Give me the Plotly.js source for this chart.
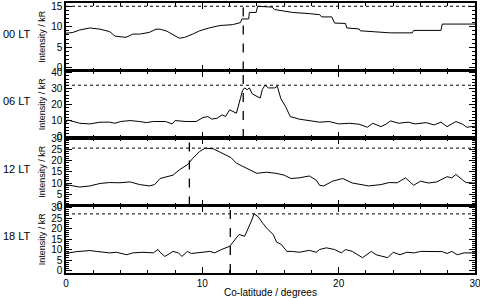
<!DOCTYPE html>
<html><head><meta charset="utf-8">
<script src="https://cdn.plot.ly/plotly-3.0.1.min.js"></script>
<style>html,body{margin:0;padding:0;background:#fff}#chart{width:480px;height:298px}</style>
</head><body><div id="chart"></div>
<script>
// Panel labels (local time)
const panelLabels = ["00 LT", "06 LT", "12 LT", "18 LT"];

// 00 LT
const colat00 = [0,0.5,1.0,1.75,2.5,3.2,3.6,4.4,4.9,5.4,6.1,6.6,6.9,7.4,8.3,8.7,9.3,9.8,10.5,11.3,12.2,12.8,12.9,13.4,13.45,13.95,14.05,15.1,15.3,16.6,17.85,18.6,18.75,19.5,19.7,20.5,20.6,21.5,21.6,22.6,23.8,25.4,25.5,27.5,27.6,30];
const int00   = [8.4,8.6,9.2,9.7,9.4,8.8,7.7,7.4,8.2,8.2,8.6,9.4,9.4,8.9,7.2,7.4,8.2,9.0,9.7,10.3,10.5,11.0,11.9,11.9,13.5,13.5,15.0,14.8,14.2,13.5,13.2,12.95,12.4,12.4,10.9,10.8,9.7,9.45,9.0,8.8,8.5,8.5,9.1,9.1,10.65,10.65];

// 06 LT
const colat06 = [0,0.1,0.3,1.0,1.75,2.5,3.2,3.6,4.0,4.7,5.4,5.9,6.4,6.9,7.3,7.8,8.0,8.8,9.55,10.05,10.4,10.7,11.1,11.45,11.7,12.0,12.2,12.5,12.7,12.95,13.1,13.3,13.45,13.65,14.0,14.25,14.4,14.6,14.85,15.3,15.5,15.75,16.1,16.45,17.1,17.85,18.35,18.6,19.3,20.0,20.8,21.5,22.1,22.5,23.1,23.5,23.8,24.4,25.1,25.6,26.4,27.0,27.5,27.95,28.6,29.1,29.4,30];
const int06   = [8.8,10.5,10.1,8.4,8.0,9.1,9.1,8.4,9.5,10.1,9.5,8.8,9.5,9.5,9.5,8.0,10.1,9.5,9.5,12.0,12.6,11.0,11.6,13.7,12.6,16.8,15.8,14.7,21.0,29.0,30.5,29.4,30.5,26.9,25.2,24.2,29.5,32.2,30.5,30.5,31.5,24.0,18.9,12.6,11.0,10.1,9.1,9.1,9.5,8.0,8.4,7.8,5.9,8.4,6.3,8.0,9.9,8.4,9.1,8.0,8.8,7.4,9.1,6.3,9.5,7.8,5.9,6.6];

// 12 LT
const colat12 = [0,1.0,1.75,2.5,3.2,3.95,4.7,5.4,6.1,6.5,6.9,7.85,8.3,8.95,9.3,9.8,10.2,10.8,11.3,11.75,12.1,12.5,13.0,13.45,14.0,14.7,15.4,16.0,16.5,17.1,17.85,18.35,18.6,18.9,19.55,20.3,21.0,22.2,23.1,23.7,24.3,24.9,25.5,26.0,26.6,27.2,27.95,28.3,28.6,29.1,29.35,30];
const int12   = [9.3,8.2,8.7,9.8,10.2,10.1,10.5,9.3,8.7,9.3,12.0,13.5,15.8,18.3,21.0,24.0,25.5,25.2,23.7,22.5,21.3,18.8,17.3,15.8,14.3,14.8,14.3,13.5,12.0,12.3,13.1,11.3,9.0,8.7,10.8,12.0,10.0,8.7,9.3,10.2,10.1,12.3,9.0,10.8,10.0,10.5,12.8,12.3,13.8,11.3,10.2,10.0];

// 18 LT
const colat18 = [0,0.2,0.8,1.4,1.75,2.25,2.75,3.2,3.7,4.45,4.9,5.65,6.4,6.75,6.9,7.25,7.85,8.25,8.5,8.9,9.2,9.8,10.55,10.9,11.4,12.0,12.4,12.7,13.1,13.35,13.6,13.8,14.1,14.45,14.8,15.2,15.45,15.8,16.2,16.6,17.1,17.85,18.35,18.6,19.1,19.7,20.2,20.5,21.0,21.75,22.4,22.75,23.6,24.0,24.5,25.0,25.55,26.0,26.6,27.6,27.95,28.3,28.7,29.2,30];
const int18   = [9.1,8.4,9.0,9.1,9.5,9.1,8.7,8.4,8.7,7.5,8.4,8.7,8.4,10.0,8.7,6.7,9.1,8.4,6.7,9.1,8.1,8.7,9.1,8.4,10.0,11.5,14.8,17.2,16.3,19.6,23.6,27.0,25.6,22.4,19.6,17.2,13.5,12.4,9.1,9.1,8.7,9.6,8.7,10.0,10.8,10.0,8.4,10.0,9.1,6.1,9.1,7.5,6.1,8.7,7.5,8.7,8.4,9.1,9.0,9.0,8.1,9.1,7.5,8.4,8.4];

// Reference (dashed) co-latitude per panel
const markerColat = [13.0, 13.0, 9.05, 12.05];

// Axis settings per panel
const yRanges = [[-0.7, 15.8], [-0.8, 41.4], [0, 30], [-1.2, 31]];
const yDticks = [5, 10, 5, 5];
const yMinor  = [1, 2, 1, 1];
const xTicks = [0, 10, 20, 30];

const xs = [colat00, colat06, colat12, colat18];
const ys = [int00, int06, int12, int18];
const domains = [[0.75,1],[0.5,0.75],[0.25,0.5],[0,0.25]];

const FONT = "Liberation Sans, Arial, sans-serif";
const traces = [];
const layout = {
  width: 480, height: 298,
  margin: {l: 66, r: 5, t: 3, b: 25},
  showlegend: false,
  paper_bgcolor: "#fff", plot_bgcolor: "#fff",
  font: {family: FONT, size: 10, color: "#000"},
  shapes: [], annotations: []
};

for (let i = 0; i < 4; i++) {
  const n = i === 0 ? "" : String(i + 1);
  traces.push({
    x: xs[i], y: ys[i], xaxis: "x" + n, yaxis: "y" + n,
    type: "scatter", mode: "lines", line: {color: "#000", width: 1},
    hoverinfo: "skip"
  });
  layout["xaxis" + n] = {
    domain: [0, 1], anchor: "y" + n, range: [0, 30],
    tickvals: xTicks, ticktext: xTicks.map(String),
    showticklabels: i === 3, ticklabeloverflow: "allow",
    ticks: "inside", ticklen: 6, tickwidth: 1, tickcolor: "#000",
    minor: {ticks: "inside", ticklen: 3, dtick: 2, tickcolor: "#000"},
    showline: true, linecolor: "#000", linewidth: 1.6, mirror: "ticks",
    showgrid: false, zeroline: false,
    tickfont: {size: 10, family: FONT},
    title: i === 3 ? {text: "Co-latitude / degrees", font: {size: 10, family: FONT}, standoff: 4} : {text: ""}
  };
  if (i > 0) layout["xaxis" + n].matches = "x";
  layout["yaxis" + n] = {
    domain: domains[i], anchor: "x" + n, range: yRanges[i],
    tick0: 0, dtick: yDticks[i], ticklabeloverflow: "allow",
    ticks: "inside", ticklen: 6, tickwidth: 1, tickcolor: "#000",
    minor: {ticks: "inside", ticklen: 3, dtick: yMinor[i], tickcolor: "#000"},
    showline: true, linecolor: "#000", linewidth: 1.6, mirror: "ticks",
    showgrid: false, zeroline: false,
    tickfont: {size: 10, family: FONT},
    title: {text: "Intensity / kR", font: {size: 9, family: FONT}, standoff: 4}
  };
  // dotted line at panel maximum
  const peak = Math.max(...ys[i]);
  layout.shapes.push({
    type: "line", xref: "x" + n + " domain", yref: "y" + n,
    x0: 0, x1: 1, y0: peak, y1: peak,
    line: {color: "#000", width: 1, dash: "dot"}
  });
  // dashed vertical reference
  layout.shapes.push({
    type: "line", xref: "x" + n, yref: "y" + n + " domain",
    x0: markerColat[i], x1: markerColat[i], y0: 0, y1: 1,
    line: {color: "#000", width: 1.3, dash: "dash"}
  });
  const yc = (domains[i][0] + domains[i][1]) / 2 + 0.012;
  layout.annotations.push({
    text: panelLabels[i], xref: "paper", yref: "paper",
    x: -0.158, y: yc, xanchor: "left", yanchor: "middle",
    showarrow: false, font: {size: 11, family: FONT}
  });
}

Plotly.newPlot("chart", traces, layout, {staticPlot: true, displayModeBar: false});
</script></body></html>
